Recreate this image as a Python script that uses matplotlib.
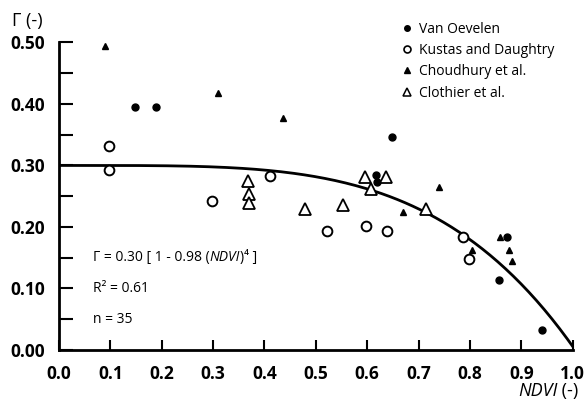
import matplotlib
matplotlib.use("Agg")
import matplotlib.pyplot as plt
import numpy as np
from matplotlib.lines import Line2D

plt.rcParams['font.family'] = ['Open Sans', 'DejaVu Sans']

# data (NDVI, Gamma)
van_oevelen_x = [0.148, 0.188, 0.648, 0.618, 0.619, 0.872, 0.857, 0.940]
van_oevelen_y = [0.395, 0.395, 0.346, 0.285, 0.273, 0.183, 0.113, 0.032]

kustas_x = [0.097, 0.098, 0.298, 0.410, 0.522, 0.598, 0.638, 0.787, 0.799]
kustas_y = [0.332, 0.292, 0.243, 0.283, 0.193, 0.202, 0.194, 0.183, 0.148]

choudhury_x = [0.089, 0.309, 0.436, 0.739, 0.670, 0.805, 0.858, 0.877, 0.882]
choudhury_y = [0.494, 0.417, 0.377, 0.265, 0.224, 0.163, 0.183, 0.162, 0.144]

clothier_x = [0.368, 0.370, 0.370, 0.478, 0.596, 0.637, 0.607, 0.553, 0.714]
clothier_y = [0.275, 0.254, 0.239, 0.229, 0.282, 0.281, 0.261, 0.235, 0.229]

labels = ['Van Oevelen', 'Kustas and Daughtry', 'Choudhury et al.', 'Clothier et al.']

# fitted curve as printed on the chart: G = a [1 - b NDVI^p]
fit_a, fit_b, fit_p = 0.30, 0.98, 4
r2, n_obs = 0.61, 35

fig = plt.figure(figsize=(5.87, 4.0), dpi=100)
ax = fig.add_axes([0.1005, 0.125, 0.875, 0.769])

ndvi = np.linspace(0, 1, 200)
ax.plot(ndvi, fit_a * (1 - fit_b * ndvi ** fit_p), color='black', lw=2.0, zorder=2)

ax.plot(van_oevelen_x, van_oevelen_y, 'o', ms=5, color='black', ls='none', zorder=3)
ax.plot(kustas_x, kustas_y, 'o', ms=7, mfc='white', mec='black', mew=1.4, ls='none', zorder=3)
ax.plot(choudhury_x, choudhury_y, '^', ms=5, color='black', ls='none', zorder=3)
ax.plot(clothier_x, clothier_y, '^', ms=8, mfc='white', mec='black', mew=1.3, ls='none', zorder=3)

ax.set_xlim(0, 1.0)
ax.set_ylim(0, 0.5)
xt = np.arange(0, 1.01, 0.1)
yt = np.arange(0, 0.51, 0.1)
ax.set_xticks(xt)
ax.set_xticklabels(['%.1f' % v for v in xt])
ax.set_yticks(yt)
ax.set_yticklabels(['%.2f' % v for v in yt])
ax.set_yticks(np.arange(0.05, 0.5, 0.1), minor=True)

for s in ['top', 'right']:
    ax.spines[s].set_visible(False)
for s in ['left', 'bottom']:
    ax.spines[s].set_linewidth(2.0)

ax.tick_params(axis='x', direction='in', length=7, width=1.5, pad=10.5, labelsize=12.5)
ax.tick_params(axis='y', which='both', direction='in', length=10, width=1.5, pad=10, labelsize=12.5)
for lab in ax.get_xticklabels() + ax.get_yticklabels():
    lab.set_fontweight('bold')

# equation, with NDVI in italics
eq = ax.annotate(u'\u0393 = %.2f [ 1 - %.2f (' % (fit_a, fit_b), xy=(0.066, 0.15),
                 va='center', fontsize=10)
eq2 = ax.annotate('NDVI', xycoords=eq, xy=(1, 0.5), va='center', fontsize=10, style='italic')
ax.annotate(u')\u2074 ]', xycoords=eq2, xy=(1, 0.5), va='center', fontsize=10)

ax.text(0.066, 0.10, u'R\u00b2 = %.2f' % r2, fontsize=10, va='center')
ax.text(0.066, 0.05, 'n = %d' % n_obs, fontsize=10, va='center')

handles = [
    Line2D([], [], marker='o', ms=4, color='black', ls='none'),
    Line2D([], [], marker='o', ms=5, mfc='white', mec='black', mew=1.2, ls='none'),
    Line2D([], [], marker='^', ms=4, color='black', ls='none'),
    Line2D([], [], marker='^', ms=6, mfc='white', mec='black', mew=1.1, ls='none'),
]
ax.legend(handles, labels, loc='upper left', bbox_to_anchor=(0.655, 1.085),
          frameon=False, fontsize=10, handlelength=0.8, handletextpad=0.5,
          labelspacing=0.45, borderaxespad=0)

fig.text(12 / 587, 1 - 21 / 400, u'\u0393 (-)', fontsize=13, va='center', ha='left')
xl = fig.text(518 / 587, 1 - 391 / 400, 'NDVI', fontsize=13, va='center', ha='left', style='italic')
ax.annotate(' (-)', xycoords=xl, xy=(1, 0.5), va='center', fontsize=13)

fig.savefig('out.png', dpi=100)
